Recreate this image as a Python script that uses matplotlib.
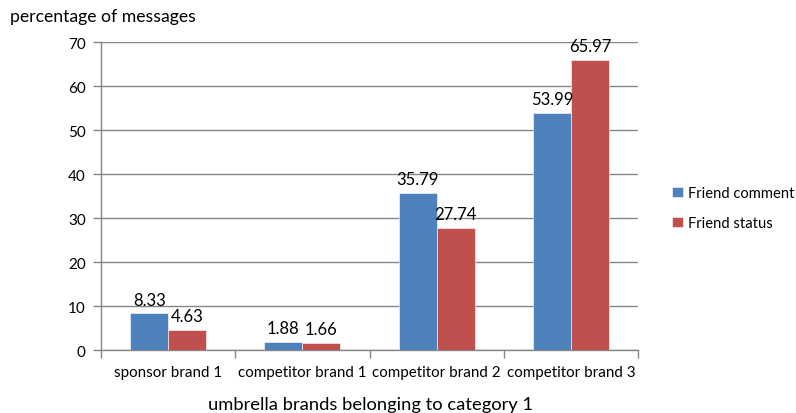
import matplotlib
matplotlib.use("Agg")
import matplotlib.pyplot as plt
import numpy as np

categories = ["sponsor brand 1", "competitor brand 1", "competitor brand 2", "competitor brand 3"]
friend_comment = [8.33, 1.88, 35.79, 53.99]
friend_status = [4.63, 1.66, 27.74, 65.97]
series_names = ["Friend comment", "Friend status"]
y_ticks = [0, 10, 20, 30, 40, 50, 60, 70]

plt.rcParams["font.family"] = ["Lato", "DejaVu Sans"]

blue = "#4F81BD"
red = "#C0504D"
grid = "#868686"

fig = plt.figure(figsize=(7.96, 4.14), dpi=100)
ax = fig.add_axes([0.127, 0.152, 0.6745, 0.744])

x = np.arange(len(categories))
w = 0.283
b1 = ax.bar(x - w / 2, friend_comment, w, color=blue, edgecolor="white", linewidth=0.4, label=series_names[0], zorder=3)
b2 = ax.bar(x + w / 2, friend_status, w, color=red, edgecolor="white", linewidth=0.4, label=series_names[1], zorder=3)

for bars, vals in ((b1, friend_comment), (b2, friend_status)):
    for r, v in zip(bars, vals):
        ax.annotate(f"{v:.2f}", (r.get_x() + r.get_width() / 2, v), xytext=(0, 4),
                    textcoords="offset points", ha="center", va="bottom", fontsize=12, color="#000000")

ax.set_xlim(-0.5, len(categories) - 0.5)
ax.set_ylim(0, 70)
ax.set_yticks(y_ticks)
ax.yaxis.grid(True, color=grid, linewidth=1.0, zorder=0)
ax.set_axisbelow(True)

ax.set_xticks(x)
ax.set_xticklabels(categories, fontsize=10.9)
ax.tick_params(axis="x", length=0, pad=11)
ax.set_xticks(np.arange(len(categories) + 1) - 0.5, minor=True)
ax.tick_params(axis="x", which="minor", length=6, color=grid, width=1.0)
ax.tick_params(axis="y", length=6, color=grid, width=1.0, labelsize=11, pad=5)

for s in ("top", "right"):
    ax.spines[s].set_visible(False)
for s in ("left", "bottom"):
    ax.spines[s].set_color(grid)
    ax.spines[s].set_linewidth(1.0)

fig.text(10 / 796, 1 - 17 / 414, "percentage of messages", fontsize=12.7, ha="left", va="center")
fig.text(371 / 796, 1 - 405 / 414, "umbrella brands belonging to category 1", fontsize=13.2, ha="center", va="center")

fig.legend(handles=[b1, b2], labels=series_names, loc="center left",
           bbox_to_anchor=(659 / 796, 1 - 209 / 414), frameon=False, fontsize=10.6,
           handlelength=0.7, handleheight=0.7, handletextpad=0.35, labelspacing=1.1)

fig.savefig("out.png", dpi=100)
